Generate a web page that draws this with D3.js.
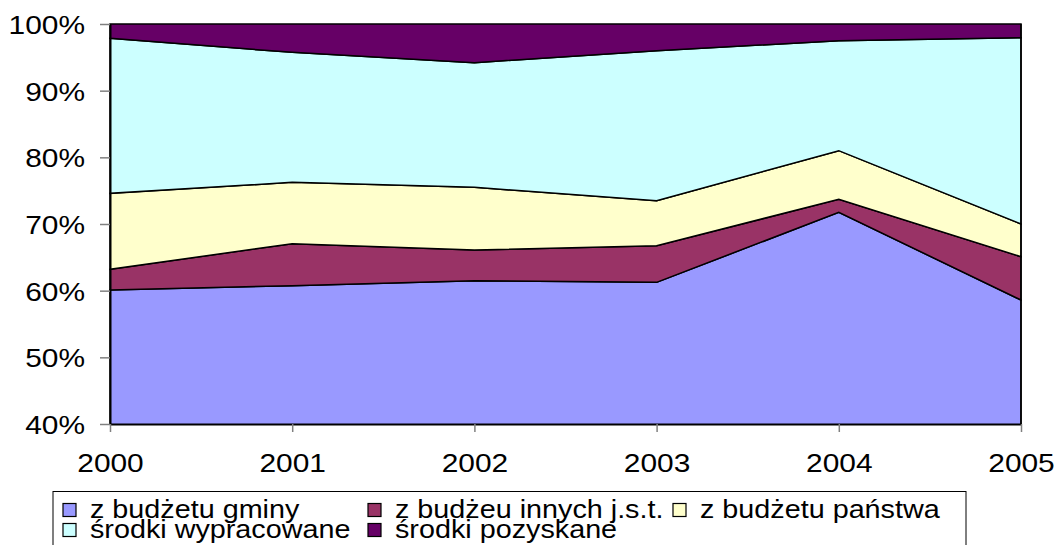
<!DOCTYPE html>
<html>
<head>
<meta charset="utf-8">
<script src="https://cdn.jsdelivr.net/npm/d3@7"></script>
<style>
  body { margin: 0; background: #fff; }
  text { font-family: "Liberation Sans", Arial, sans-serif; fill: #000; }
</style>
</head>
<body>
<svg id="chart" width="1058" height="545"></svg>
<script>
// data (share of each source, %)
const years = ['2000', '2001', '2002', '2003', '2004', '2005'];
const seriesNames = ['z budżetu gminy', 'z budżeu innych j.s.t.', 'z budżetu państwa', 'środki wypracowane', 'środki pozyskane'];
const gmina = [60.1, 60.75, 61.5, 61.25, 71.75, 58.6];
const innych = [3.1, 6.3, 4.6, 5.5, 1.95, 6.5];
const panstwa = [11.4, 9.2, 9.4, 6.75, 7.3, 4.9];
const wypracowane = [23.25, 19.5, 18.7, 22.5, 16.5, 27.95];
const pozyskane = [2.15, 4.25, 5.8, 4.0, 2.5, 2.05];
const yTicks = [0.4, 0.5, 0.6, 0.7, 0.8, 0.9, 1.0];
const colors = ['#9999FF', '#993366', '#FFFFCC', '#CCFFFF', '#660066'];

const width = 1058, height = 545;
const margin = { top: 24, right: 37, bottom: 121, left: 110 };
const stretch = 1.15; // text in the original is a bit wider than normal

const svg = d3.select('#chart');

const seriesValues = [gmina, innych, panstwa, wypracowane, pozyskane];
const table = years.map((yr, i) => {
    const row = { year: yr };
    seriesNames.forEach((s, k) => { row[s] = seriesValues[k][i]; });
    return row;
});

const x = d3.scalePoint().domain(years).range([margin.left, width - margin.right]);
const y = d3.scaleLinear().domain([0.4, 1]).range([height - margin.bottom, margin.top]);

const stacked = d3.stack().keys(seriesNames).offset(d3.stackOffsetExpand)(table);

svg.append('clipPath').attr('id', 'plotclip')
    .append('rect')
    .attr('x', margin.left - 1)
    .attr('y', margin.top - 2)
    .attr('width', width - margin.right - margin.left + 2)
    .attr('height', height - margin.bottom - margin.top + 2);

const area = d3.area()
    .x(d => x(d.data.year))
    .y0(d => y(d[0]))
    .y1(d => y(d[1]));

svg.append('g')
    .attr('clip-path', 'url(#plotclip)')
    .selectAll('path')
    .data(stacked)
    .enter()
    .append('path')
    .attr('d', area)
    .attr('fill', (d, i) => colors[i])
    .attr('stroke', '#000')
    .attr('stroke-width', 1.5)
    .attr('stroke-linejoin', 'miter');

// y axis
const yAxis = svg.append('g')
    .attr('transform', `translate(${margin.left},0)`)
    .call(d3.axisLeft(y).tickValues(yTicks).tickFormat(d3.format('.0%')).tickSize(10).tickSizeOuter(0));
yAxis.select('.domain').attr('stroke', '#000').attr('stroke-width', 2);
yAxis.selectAll('.tick line').attr('stroke', '#808080').attr('stroke-width', 1.5);
yAxis.selectAll('.tick text')
    .attr('x', -25 / stretch)
    .attr('dy', '0.36em')
    .attr('transform', `scale(${stretch},1)`)
    .style('font-size', '26px');

// x axis
const xAxis = svg.append('g')
    .attr('transform', `translate(0,${height - margin.bottom})`)
    .call(d3.axisBottom(x).tickSize(8).tickSizeOuter(0));
xAxis.select('.domain').attr('stroke', '#000').attr('stroke-width', 2);
xAxis.selectAll('.tick line').attr('stroke', '#808080').attr('stroke-width', 1.5);
xAxis.selectAll('.tick text')
    .attr('y', 48)
    .attr('dy', 0)
    .attr('transform', `scale(${stretch},1)`)
    .style('font-size', '26px');

// right edge of the plot
svg.append('line')
    .attr('x1', x(years[years.length - 1])).attr('x2', x(years[years.length - 1]))
    .attr('y1', margin.top).attr('y2', height - margin.bottom)
    .attr('stroke', '#000').attr('stroke-width', 1.5);

// legend
const legend = svg.append('g').attr('transform', 'translate(53,491.5)');
legend.append('rect')
    .attr('x', 0).attr('y', 0)
    .attr('width', 913).attr('height', 80)
    .attr('fill', '#fff')
    .attr('stroke', '#000')
    .attr('stroke-width', 1);

const colW = 305, rowH = 20;
const items = legend.selectAll('.item')
    .data(seriesNames)
    .enter()
    .append('g')
    .attr('class', 'item')
    .attr('transform', (d, i) => `translate(${10 + (i % 3) * colW},${12 + Math.floor(i / 3) * rowH})`);

items.append('rect')
    .attr('x', 0).attr('y', 0)
    .attr('width', 13).attr('height', 13)
    .attr('fill', (d, i) => colors[i])
    .attr('stroke', '#000')
    .attr('stroke-width', 1.2);

items.append('text')
    .attr('transform', `translate(27,14.5) scale(${stretch},1)`)
    .style('font-size', '25px')
    .text(d => d);
</script>
</body>
</html>
